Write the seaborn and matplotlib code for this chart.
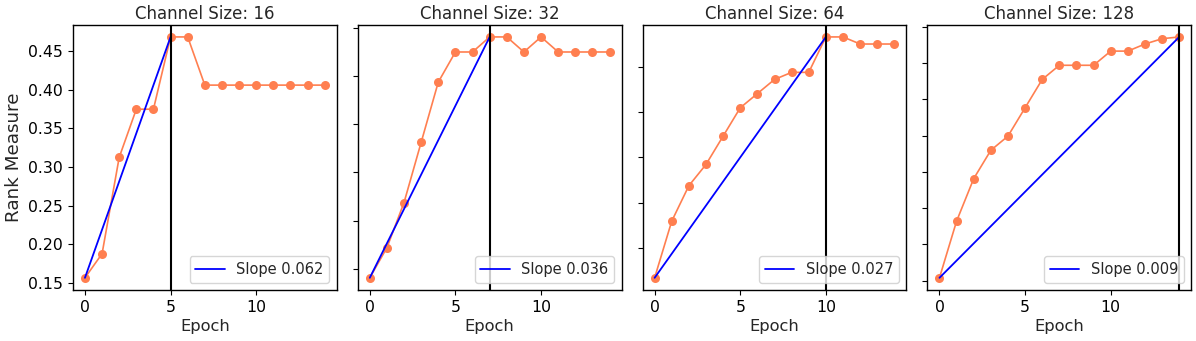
import numpy as np
import pandas as pd
import seaborn as sns
import matplotlib
matplotlib.use("Agg")
import matplotlib.pyplot as plt

# rank measure per epoch for each channel size
channel_sizes = [16, 32, 64, 128]
epochs = list(range(15))
rank_16 = [5/32, 6/32, 10/32, 12/32, 12/32, 15/32, 15/32,
           13/32, 13/32, 13/32, 13/32, 13/32, 13/32, 13/32, 13/32]
rank_32 = [9/64, 11/64, 14/64, 18/64, 22/64, 24/64, 24/64, 25/64,
           25/64, 24/64, 25/64, 24/64, 24/64, 24/64, 24/64]
rank_64 = [15/128, 23/128, 28/128, 31/128, 35/128, 39/128, 41/128, 43/128,
           44/128, 44/128, 49/128, 49/128, 48/128, 48/128, 48/128]
rank_128 = [26/256, 34/256, 40/256, 44/256, 46/256, 50/256, 54/256, 56/256,
            56/256, 56/256, 58/256, 58/256, 59/256, 119.5/512, 60/256]
ranks = [rank_16, rank_32, rank_64, rank_128]

sns.set_style("ticks")
plt.rcParams['font.family'] = ['DejaVu Sans']

fig, axes = plt.subplots(1, 4, figsize=(11.96, 3.41), dpi=100)
fig.subplots_adjust(left=0.061, right=0.996, top=0.927, bottom=0.15, wspace=0.08)

for i, (ax, c, r) in enumerate(zip(axes, channel_sizes, ranks)):
    df = pd.DataFrame({'epoch': epochs, 'rank': r})
    # epoch of the peak and the slope from epoch 0 to there
    peak = int(np.argmax(r))
    slope = (r[peak] - r[0]) / peak
    sns.lineplot(data=df, x='epoch', y='rank', ax=ax, color='coral',
                 marker='o', markersize=6.5, markeredgewidth=0, linewidth=1.2)
    line_df = pd.DataFrame({'epoch': [0, peak], 'rank': [r[0], r[peak]]})
    sns.lineplot(data=line_df, x='epoch', y='rank', ax=ax, color='blue',
                 linewidth=1.3, label=f'Slope {slope:.3f}')
    ax.axvline(peak, color='black', linewidth=1.5)
    ax.set_title(f'Channel Size: {c}', fontsize=12, pad=4)
    ax.set_xlabel('Epoch', fontsize=11.7, labelpad=3.5)
    ax.set_xticks([0, 5, 10])
    ax.tick_params(labelsize=11.3, colors='black')
    for s in ax.spines.values():
        s.set_color('black')
        s.set_linewidth(1.0)
    ax.legend(loc='lower right', fontsize=10.5)
    if i == 0:
        ax.set_ylabel('Rank Measure', fontsize=13.2)
    else:
        ax.set_ylabel('')
        ax.tick_params(labelleft=False)

fig.savefig('out.png', dpi=100)
